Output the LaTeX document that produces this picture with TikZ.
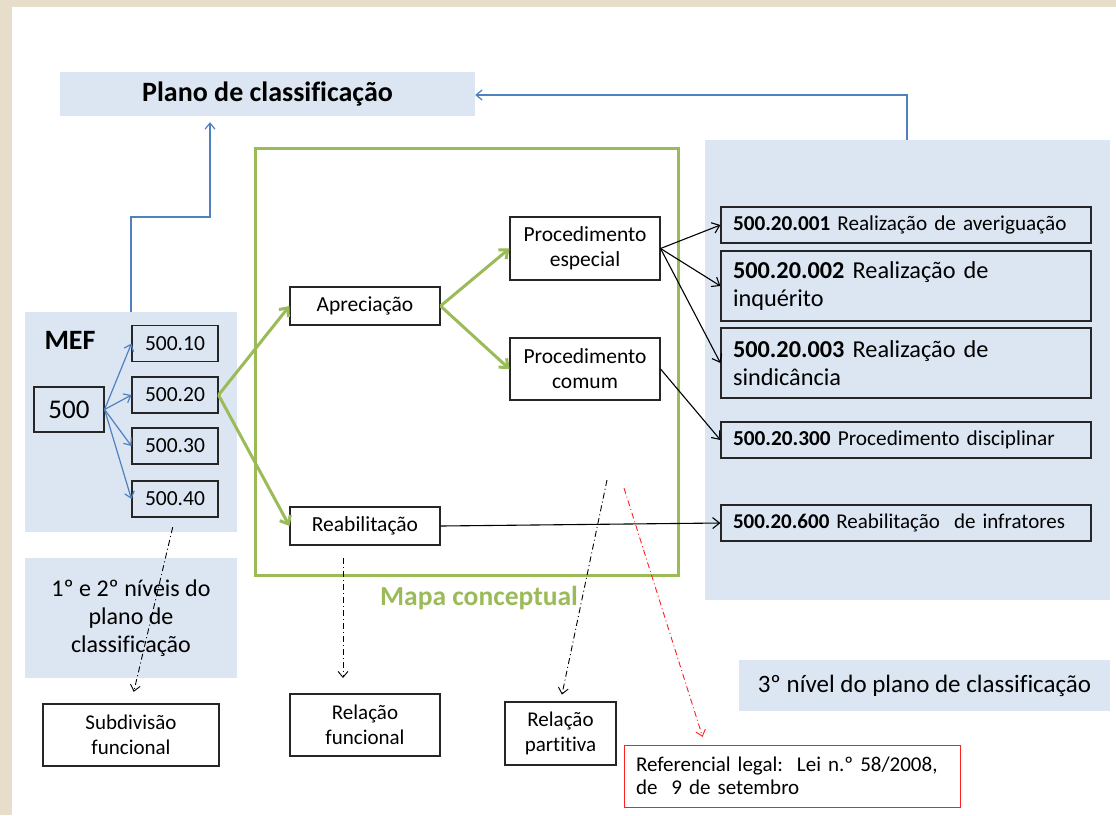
\documentclass[tikz,border=0pt]{standalone}
\usepackage{fontspec}
\setmainfont[Ligatures=NoCommon]{Carlito}
\usetikzlibrary{arrows.meta,calc}
\definecolor{beige}{HTML}{E6DECA}
\definecolor{lblue}{HTML}{DCE6F2}
\definecolor{mgreen}{HTML}{9BBB59}
\definecolor{mblue}{HTML}{4F81BD}
\definecolor{mred}{HTML}{FF2020}
\tikzset{
  region/.style={fill=lblue, draw=none, inner sep=0pt},
  box/.style={draw=black!85, line width=1.1pt, inner sep=2pt, align=center, font=\fontsize{21.5}{25}\selectfont},
  lvbox/.style={draw=black!85, line width=1.1pt, inner sep=0pt, minimum width=370pt, text width=346pt, align=left},
  numbox/.style={draw=black!85, line width=1.1pt, minimum width=86pt, minimum height=36pt, inner sep=0pt, font=\fontsize{21.5}{24}\selectfont},
  bluearr/.style={draw=mblue, line width=1.2pt, -{Straight Barb[length=6pt,width=10pt]}},
  blackarr/.style={draw=black, line width=1.1pt, -{Straight Barb[length=7pt,width=11pt]}},
  greenarr/.style={draw=mgreen, line width=3pt, -{Straight Barb[length=7pt,width=12pt,line width=3pt]}},
  dd/.style={draw=black, line width=0.9pt, dash pattern=on 6pt off 3pt on 1pt off 3pt, -{Straight Barb[length=6pt,width=10pt]}},
  ddred/.style={draw=mred, line width=0.9pt, dash pattern=on 6pt off 3pt on 1pt off 3pt, -{Straight Barb[length=6pt,width=10pt]}},
}
\begin{document}
\begin{tikzpicture}[x=1pt,y=-1pt]
\useasboundingbox (0,0) rectangle (1116,815);
\fill[beige] (0,0) rectangle (1116,815);
\fill[white] (12,7) rectangle (1116,815);

% regions
\node[region, minimum width=415pt, minimum height=44pt, font=\fontsize{28}{30}\selectfont\bfseries] (plano) at (267.5,94) {Plano de classificação};
\node[region, minimum width=212pt, minimum height=220pt] (mef) at (131,422) {};
\node[region, minimum width=212pt, minimum height=120pt, align=center, font=\fontsize{24}{28}\selectfont] (niv12) at (131,618) {1º e 2º níveis do\\plano de\\classificação};
\node[region, minimum width=405pt, minimum height=460pt] (right) at (907.5,370) {};
\node[region, minimum width=371pt, minimum height=51pt, font=\fontsize{25}{28}\selectfont] (niv3) at (924.5,685.5) {3º nível do plano de classificação};

% green frame
\draw[mgreen, line width=3pt] (255,148) rectangle (678,575);
\node[text=mgreen, font=\fontsize{27.5}{30}\selectfont\bfseries] (mapa) at (479,598) {Mapa conceptual};

% MEF
\node[font=\fontsize{28}{30}\selectfont\bfseries] (meft) at (70,340) {MEF};
\node[draw=black!85, line width=1.1pt, minimum width=70pt, minimum height=45pt, inner sep=0pt, font=\fontsize{27}{30}\selectfont] (b500) at (69,409.5) {500};
\node[numbox] (b10) at (175,343.5) {500.10};
\node[numbox] (b20) at (175,395) {500.20};
\node[numbox] (b30) at (175,446) {500.30};
\node[numbox] (b40) at (175,499) {500.40};
\foreach \t in {b10,b20,b30,b40} \draw[bluearr] (b500.east) -- (\t.west);

% conceptual map
\node[box, minimum width=150pt, minimum height=38pt] (apr) at (365,306) {Apreciação};
\node[box, minimum width=150pt, minimum height=38pt] (reab) at (365,526) {Reabilitação};
\node[box, minimum width=150pt, minimum height=63pt] (pesp) at (585,248.5) {Procedimento\\especial};
\node[box, minimum width=150pt, minimum height=62pt] (pcom) at (585,369) {Procedimento\\comum};

\draw[greenarr] (b20.east) -- (apr.west);
\draw[greenarr] (b20.east) -- (reab.west);
\draw[greenarr] (apr.east) -- (pesp.west);
\draw[greenarr] (apr.east) -- (pcom.west);

% third level
\node[lvbox, minimum height=36pt, font=\fontsize{21.2}{24}\selectfont] (l001) at (906,225) {\textbf{500.20.001} Realização de averiguação};
\node[lvbox, minimum height=70pt, font=\fontsize{24.3}{28}\selectfont] (l002) at (906,286) {\textbf{500.20.002} Realização de\\inquérito};
\node[lvbox, minimum height=70pt, font=\fontsize{24.3}{28}\selectfont] (l003) at (906,363) {\textbf{500.20.003} Realização de\\sindicância};
\node[lvbox, minimum height=36pt, font=\fontsize{21.3}{24}\selectfont] (l300) at (906,440) {\textbf{500.20.300} Procedimento disciplinar};
\node[lvbox, minimum height=36pt, font=\fontsize{21}{24}\selectfont] (l600) at (906,523) {\textbf{500.20.600} Reabilitação\ \ de infratores};

\draw[blackarr] (pesp.east) -- (l001.west);
\draw[blackarr] (pesp.east) -- (l002.west);
\draw[blackarr] (pesp.east) -- (l003.west);
\draw[blackarr] (pcom.east) -- (l300.west);
\draw[blackarr] (reab.east) -- (l600.west);

% plano arrows
\draw[bluearr] (mef.north -| 131,0) |- (210,217) -- ($(plano.south -| 210,0)+(0,6)$);
\draw[bluearr] (right.north -| 907,0) |- ($(plano.east)+(0,1)$);

% bottom boxes
\node[box, minimum width=176pt, minimum height=62pt, font=\fontsize{21}{25}\selectfont] (subd) at (131,735) {Subdivisão\\funcional};
\node[box, minimum width=150pt, minimum height=62pt, font=\fontsize{21}{25}\selectfont] (rfun) at (365,725) {Relação\\funcional};
\node[box, minimum width=111pt, minimum height=63pt, font=\fontsize{21}{25}\selectfont] (rpar) at (560.5,733.5) {Relação\\partitiva};
\node[draw=mred, line width=1pt, minimum width=336pt, minimum height=62pt, text width=312pt, align=left, inner sep=0pt, font=\fontsize{21}{23}\selectfont] (ref) at (792,776) {Referencial legal:\ \ Lei n.º 58/2008,\\de\ \ 9 de setembro};

\coordinate (fs) at (343,558);
\coordinate (ps) at (607,480);
\coordinate (rs) at (624,488);
\draw[dd, shorten <=10pt, shorten >=12pt] (b40.south) -- (subd.north);
\draw[dd] (fs) -- (fs |- 0,678);
\draw[dd, shorten >=7pt] (ps) -- (rpar.north);
\draw[ddred, shorten >=8pt] (rs) -- (ref.north -| 705,0);
\end{tikzpicture}
\end{document}
